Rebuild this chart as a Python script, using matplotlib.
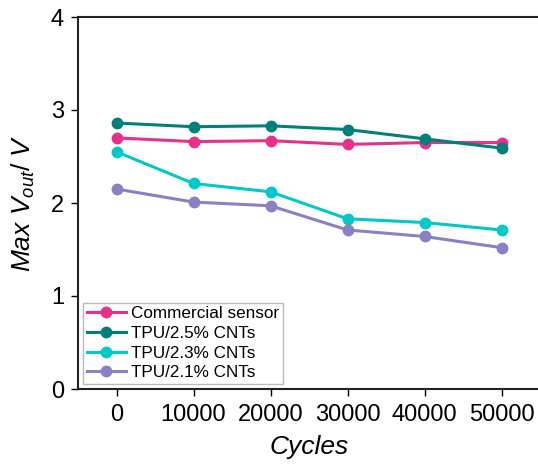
import matplotlib.pyplot as plt

plt.rcParams['font.family'] = ['Liberation Sans', 'DejaVu Sans']
plt.rcParams['mathtext.fontset'] = 'custom'
plt.rcParams['mathtext.it'] = 'Liberation Sans:italic'
plt.rcParams['mathtext.rm'] = 'Liberation Sans'

cycles = [0, 10000, 20000, 30000, 40000, 50000]
commercial = [2.70, 2.66, 2.67, 2.63, 2.65, 2.65]
cnt_25 = [2.86, 2.82, 2.83, 2.79, 2.69, 2.59]
cnt_23 = [2.55, 2.21, 2.12, 1.83, 1.79, 1.71]
cnt_21 = [2.15, 2.01, 1.97, 1.71, 1.64, 1.52]

series = [
    ('Commercial sensor', commercial, '#E8308A'),
    ('TPU/2.5% CNTs', cnt_25, '#00807A'),
    ('TPU/2.3% CNTs', cnt_23, '#00C9C8'),
    ('TPU/2.1% CNTs', cnt_21, '#8B80C4'),
]

fig = plt.figure(figsize=(5.38, 4.66), dpi=100)
ax = fig.add_axes([78 / 538, 1 - 389 / 466, 462 / 538, 372 / 466])

for label, vals, color in series:
    ax.plot(cycles, vals, '-o', color=color, lw=2.2, ms=7.5, label=label)

ax.set_xlim(-5000, 55000)
ax.set_ylim(0, 4)
ax.set_xticks(cycles)
ax.set_yticks([0, 1, 2, 3, 4])
ax.tick_params(labelsize=17, length=5, width=1.0, direction='out')
ax.tick_params(axis='x', pad=6)
ax.tick_params(axis='y', pad=5)
ax.spines['right'].set_visible(False)
for s in ['left', 'bottom', 'top']:
    ax.spines[s].set_linewidth(1.5)
    ax.spines[s].set_color('#222222')

ax.set_xlabel('Cycles', fontsize=19, fontstyle='italic', labelpad=6)
ax.set_ylabel(r'$Max\ V_{out}/\ V$', fontsize=19, labelpad=10)

leg = ax.legend(loc='lower left', fontsize=12.3, frameon=True, fancybox=False,
                borderaxespad=0.3, handlelength=2.3, handletextpad=0.3,
                labelspacing=0.28, borderpad=0.2)
leg.get_frame().set_edgecolor('#aaaaaa')
leg.get_frame().set_linewidth(1.0)

fig.savefig('out.png', dpi=100)
